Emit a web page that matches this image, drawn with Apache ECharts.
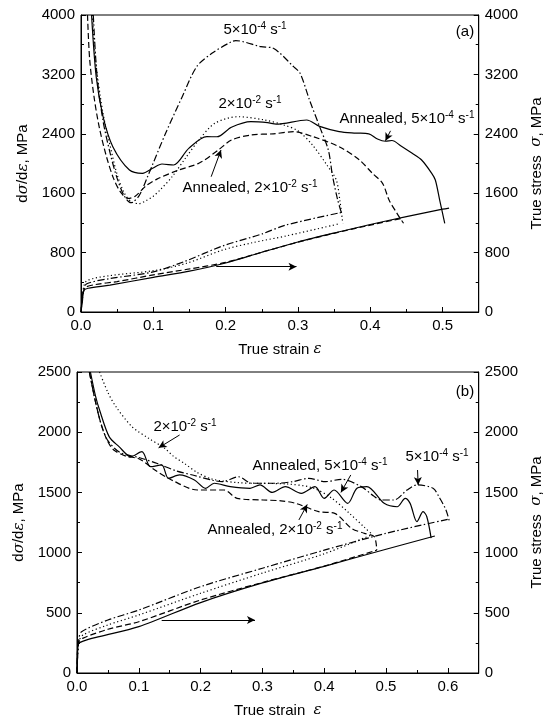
<!DOCTYPE html>
<html>
<head>
<meta charset="utf-8">
<script src="https://cdn.jsdelivr.net/npm/echarts@6/dist/echarts.min.js"></script>
<style>
  html, body { margin: 0; padding: 0; background: #fff; }
  #chart { width: 552px; height: 719px; }
</style>
</head>
<body>
<div id="chart"></div>
<script>
// panel (a): [true strain, value]
const aRateAnn5e4 = [[0.0146,4000],[0.021,3170],[0.0305,2630],[0.044,2226],[0.067,1912],[0.085,1868],[0.099,1935],[0.112,1993],[0.128,1980],[0.149,2204],[0.174,2361],[0.188,2360],[0.208,2488],[0.235,2563],[0.258,2550],[0.27,2530],[0.312,2586],[0.33,2500],[0.357,2430],[0.38,2410],[0.398,2400],[0.41,2330],[0.421,2300],[0.43,2310],[0.442,2240],[0.458,2137],[0.471,2047],[0.485,1868],[0.49,1778],[0.496,1508],[0.503,1195]];
const aRateAnn2e2 = [[0.009,4000],[0.012,3400],[0.018,2900],[0.025,2500],[0.035,2100],[0.045,1800],[0.055,1610],[0.065,1530],[0.075,1560],[0.09,1700],[0.105,1790],[0.135,1912],[0.163,2003],[0.19,2182],[0.208,2316],[0.235,2384],[0.266,2400],[0.294,2428],[0.321,2361],[0.357,2226],[0.385,2047],[0.403,1868],[0.417,1733],[0.426,1508],[0.437,1329],[0.446,1195]];
const aRate2e2 = [[0.016,4000],[0.02,3400],[0.03,2700],[0.04,2250],[0.05,1850],[0.06,1600],[0.07,1480],[0.08,1460],[0.09,1500],[0.1,1560],[0.11,1650],[0.126,1822],[0.145,2080],[0.163,2316],[0.185,2541],[0.217,2630],[0.254,2586],[0.28,2520],[0.3,2440],[0.32,2250],[0.34,1980],[0.353,1778],[0.358,1500],[0.362,1195]];
const aRate5e4 = [[0.017,4000],[0.022,3200],[0.03,2600],[0.04,2150],[0.05,1800],[0.06,1560],[0.069,1472],[0.08,1560],[0.092,1822],[0.117,2407],[0.14,2900],[0.16,3304],[0.181,3484],[0.208,3640],[0.214,3655],[0.249,3573],[0.266,3551],[0.294,3304],[0.303,3215],[0.316,2855],[0.33,2496],[0.342,2182],[0.348,1822],[0.355,1508],[0.36,1340]];
const aStressAnn5e4 = [[0,0],[0.002,150],[0.004,290],[0.01,320],[0.04,363],[0.1,467],[0.15,550],[0.2,660],[0.25,805],[0.3,943],[0.35,1064],[0.4,1178],[0.45,1285],[0.5,1385],[0.509,1400]];
const aStressAnn2e2 = [[0,0],[0.003,250],[0.006,330],[0.02,370],[0.05,410],[0.1,500],[0.15,580],[0.2,668],[0.25,805],[0.3,940],[0.35,1060],[0.4,1170],[0.445,1265]];
const aStress2e2 = [[0,0],[0.003,300],[0.008,420],[0.04,490],[0.1,556],[0.146,656],[0.196,835],[0.237,933],[0.283,1023],[0.358,1190]];
const aStress5e4 = [[0,0],[0.003,280],[0.008,380],[0.04,450],[0.1,540],[0.143,680],[0.196,890],[0.25,1050],[0.283,1170],[0.36,1340]];

// panel (b)
const bRateAnn5e4 = [[0.0217,2500],[0.03,2300],[0.0365,2184],[0.052,1963],[0.068,1880],[0.087,1797],[0.105,1838],[0.119,1714],[0.137,1728],[0.148,1617],[0.166,1645],[0.19,1603],[0.208,1534],[0.222,1576],[0.248,1548],[0.28,1534],[0.296,1562],[0.316,1500],[0.337,1548],[0.363,1492],[0.385,1548],[0.4,1451],[0.416,1520],[0.438,1409],[0.453,1534],[0.469,1548],[0.497,1409],[0.518,1381],[0.531,1451],[0.539,1409],[0.55,1257],[0.56,1340],[0.566,1298],[0.573,1120]];
const bRateAnn2e2 = [[0.02,2500],[0.03,2250],[0.04,2050],[0.05,1920],[0.06,1850],[0.08,1800],[0.1,1780],[0.126,1686],[0.153,1603],[0.195,1520],[0.238,1520],[0.259,1451],[0.301,1437],[0.33,1430],[0.354,1409],[0.391,1340],[0.417,1326],[0.444,1202],[0.465,1160],[0.481,1132],[0.485,1020]];
const bRate2e2 = [[0.0365,2500],[0.05,2330],[0.063,2212],[0.089,2046],[0.116,1949],[0.142,1866],[0.156,1800],[0.174,1740],[0.193,1670],[0.219,1610],[0.261,1581],[0.3,1575],[0.34,1570],[0.38,1540],[0.41,1460],[0.44,1330],[0.465,1210],[0.478,1150]];
const bRate5e4 = [[0.02,2500],[0.03,2250],[0.04,2050],[0.05,1930],[0.07,1830],[0.1,1790],[0.13,1740],[0.16,1680],[0.19,1640],[0.22,1600],[0.235,1589],[0.261,1630],[0.283,1576],[0.322,1576],[0.349,1589],[0.375,1617],[0.402,1589],[0.428,1609],[0.46,1548],[0.48,1470],[0.492,1437],[0.513,1437],[0.534,1520],[0.55,1562],[0.576,1534],[0.587,1451],[0.597,1354],[0.603,1250]];
const bStressAnn5e4 = [[0,0],[0.002,240],[0.01,265],[0.036,302],[0.1,385],[0.2,585],[0.3,748],[0.4,886],[0.5,1028],[0.579,1138]];
const bStressAnn2e2 = [[0,0],[0.002,250],[0.01,290],[0.05,363],[0.1,426],[0.2,606],[0.3,752],[0.4,888],[0.485,1020]];
const bStress2e2 = [[0,0],[0.003,260],[0.01,316],[0.05,399],[0.1,482],[0.2,662],[0.3,830],[0.4,990],[0.478,1150]];
const bStress5e4 = [[0,0],[0.003,280],[0.0074,343],[0.05,440],[0.1,523],[0.2,717],[0.3,870],[0.4,1020],[0.5,1160],[0.603,1280]];

// arrows: [[x1,y1],[x2,y2]]
const aArrows = [[[0.187,610],[0.298,610]],[[0.428,2440],[0.421,2305]],[[0.18,1822],[0.1936,2182]]];
const bArrows = [[[0.137,440],[0.288,440]],[[0.166,1977],[0.132,1870]],[[0.443,1645],[0.427,1500]],[[0.551,1686],[0.552,1561]],[[0.359,1271],[0.3725,1400]]];

const dash = {
  solid: 'solid',
  dashed: [6, 3],
  dotted: [1.2, 2.6],
  dashdot: [7, 2.5, 1.5, 2.5],
};

const fontFamily = 'Liberation Sans, Arial, sans-serif';
const rich = {
  n: { fontSize: 15, color: '#000', fontFamily: fontFamily },
  i: { fontSize: 15, color: '#000', fontStyle: 'italic', fontFamily: 'DejaVu Serif' },
};

function line(data, type, gi, arrows) {
  const s = {
    type: 'line',
    data: data,
    xAxisIndex: gi,
    yAxisIndex: gi * 2,
    showSymbol: false,
    smooth: 0.3,
    silent: true,
    lineStyle: { color: '#000', width: 1.2, type: dash[type] },
  };
  if (arrows) {
    s.markLine = {
      silent: true,
      symbol: ['none', 'arrow'],
      symbolSize: [6, 8],
      label: { show: false },
      lineStyle: { color: '#000', width: 1, type: 'solid' },
      data: arrows.map((a) => [{ coord: a[0] }, { coord: a[1] }]),
    };
  }
  return s;
}

function tickFmt(v) {
  return Math.abs(v * 10 - Math.round(v * 10)) < 1e-6 ? v.toFixed(1) : '';
}

function xAxis(gi, max, name) {
  return {
    gridIndex: gi,
    type: 'value',
    min: 0,
    max: max,
    interval: 0.1,
    axisLine: { lineStyle: { color: '#000', width: 1 } },
    axisTick: { inside: true, length: 5, lineStyle: { color: '#000' } },
    minorTick: { show: true, splitNumber: 2, length: 3, lineStyle: { color: '#000' } },
    splitLine: { show: false },
    axisLabel: { formatter: tickFmt, color: '#000', fontSize: 15, margin: 6, showMaxLabel: false },
    name: name,
    nameLocation: 'middle',
    nameGap: 30,
    nameTextStyle: { rich: rich },
  };
}

function yAxis(gi, max, interval, pos, name) {
  return {
    gridIndex: gi,
    type: 'value',
    position: pos,
    min: 0,
    max: max,
    interval: interval,
    axisLine: { show: true, onZero: false, lineStyle: { color: '#000', width: 1 } },
    axisTick: { inside: true, length: 5, lineStyle: { color: '#000' } },
    minorTick: { show: true, splitNumber: 2, length: 3, lineStyle: { color: '#000' } },
    splitLine: { show: false },
    axisLabel: { color: '#000', fontSize: 15, margin: 6, formatter: (v) => String(v) },
    name: name,
    nameLocation: 'middle',
    nameRotate: 90,
    nameGap: pos === 'left' ? 47 : 46,
    nameTextStyle: { rich: rich },
  };
}

const leftName = '{n|d}{i|σ}{n|/d}{i|ε}{n|, MPa}';
const rightName = '{n|True stress  }{i|σ}{n|, MPa}';

function label(text, x, y) {
  return {
    type: 'text',
    x: x,
    y: y,
    silent: true,
    style: {
      text: text,
      align: 'center',
      verticalAlign: 'middle',
      rich: {
        n: { fontSize: 15, fontFamily: fontFamily, fill: '#000', lineHeight: 18 },
        s: { fontSize: 10, fontFamily: fontFamily, fill: '#000', lineHeight: 10, verticalAlign: 'top' },
      },
    },
  };
}

const options = {
  animation: false,
  backgroundColor: '#fff',
  textStyle: { fontFamily: fontFamily, color: '#000' },
  grid: [
    { left: 81, top: 15, width: 402, height: 297, show: true, borderColor: '#000', borderWidth: 1 },
    { left: 77, top: 372, width: 408, height: 301, show: true, borderColor: '#000', borderWidth: 1 },
  ],
  xAxis: [
    xAxis(0, 0.55, '{n|True strain }{i|ε}'),
    xAxis(1, 0.65, '{n|True strain  }{i|ε}'),
  ],
  yAxis: [
    yAxis(0, 4000, 800, 'left', leftName),
    yAxis(0, 4000, 800, 'right', rightName),
    yAxis(1, 2500, 500, 'left', leftName),
    yAxis(1, 2500, 500, 'right', rightName),
  ],
  series: [
    line(aRateAnn5e4, 'solid', 0, aArrows),
    line(aRateAnn2e2, 'dashed', 0),
    line(aRate2e2, 'dotted', 0),
    line(aRate5e4, 'dashdot', 0),
    line(aStressAnn5e4, 'solid', 0),
    line(aStressAnn2e2, 'dashed', 0),
    line(aStress2e2, 'dotted', 0),
    line(aStress5e4, 'dashdot', 0),
    line(bRateAnn5e4, 'solid', 1, bArrows),
    line(bRateAnn2e2, 'dashed', 1),
    line(bRate2e2, 'dotted', 1),
    line(bRate5e4, 'dashdot', 1),
    line(bStressAnn5e4, 'solid', 1),
    line(bStressAnn2e2, 'dashed', 1),
    line(bStress2e2, 'dotted', 1),
    line(bStress5e4, 'dashdot', 1),
  ],
  graphic: [
    label('{n|5×10}{s|-4}{n| s}{s|-1}', 255, 30),
    label('{n|2×10}{s|-2}{n| s}{s|-1}', 250, 104),
    label('{n|Annealed, 5×10}{s|-4}{n| s}{s|-1}', 407, 119),
    label('{n|Annealed, 2×10}{s|-2}{n| s}{s|-1}', 250, 188),
    label('{n|(a)}', 465, 32),
    label('{n|2×10}{s|-2}{n| s}{s|-1}', 185, 427),
    label('{n|Annealed, 5×10}{s|-4}{n| s}{s|-1}', 320, 466),
    label('{n|5×10}{s|-4}{n| s}{s|-1}', 437, 457),
    label('{n|Annealed, 2×10}{s|-2}{n| s}{s|-1}', 275, 530),
    label('{n|(b)}', 465, 392),
  ],
};

const myChart = echarts.init(document.getElementById('chart'), null, { renderer: 'canvas' });
myChart.setOption(options);
</script>
</body>
</html>
